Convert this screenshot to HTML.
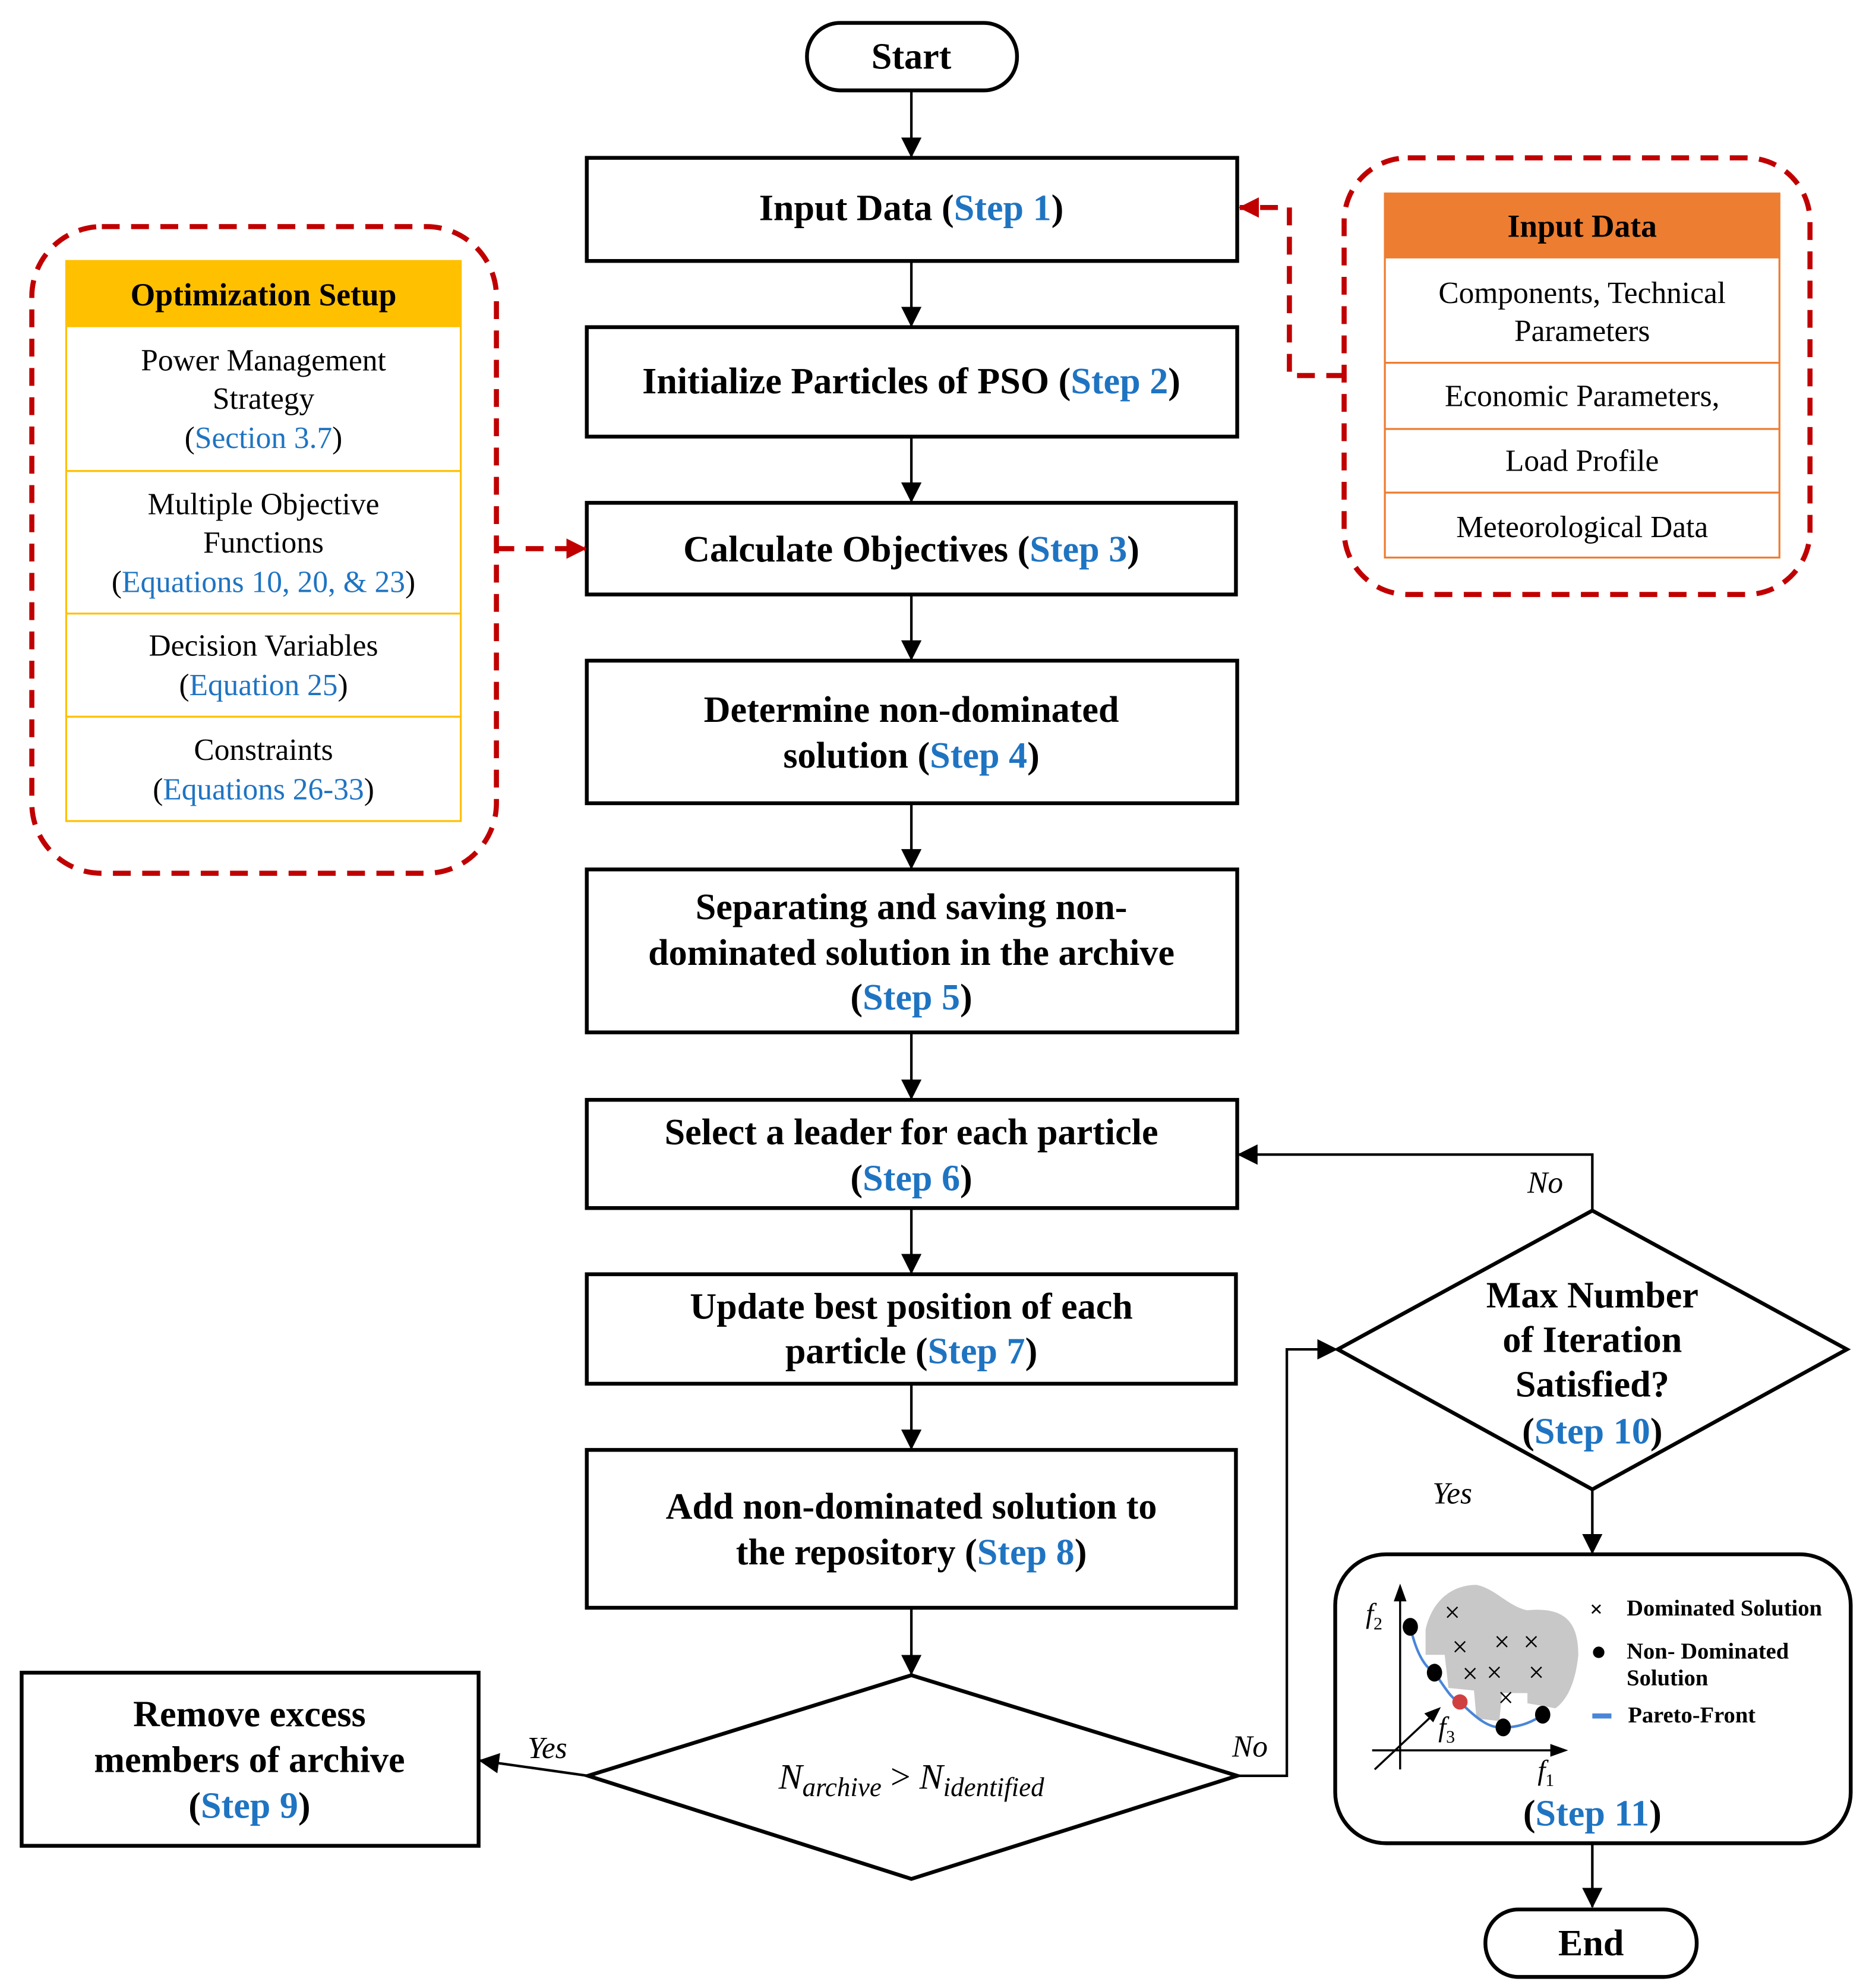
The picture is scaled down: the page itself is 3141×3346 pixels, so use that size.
<!DOCTYPE html>
<html><head><meta charset="utf-8"><style>
html,body{margin:0;padding:0;background:#fff}
svg{display:block}
text{font-family:"Liberation Serif",serif}
.b{font-weight:bold;font-size:29px}
.t{font-size:24px}
.bl{fill:#1f74c2}
.bx{fill:#fff;stroke:#000;stroke-width:3}
.ln{stroke:#000;stroke-width:2;fill:none}
.dsh{stroke:#c00000;stroke-width:4;fill:none;stroke-dasharray:14 9}
</style></head><body>
<svg width="3141" height="3346" viewBox="0 0 1466 1561.7" xmlns="http://www.w3.org/2000/svg">
<defs>
<marker id="ab" markerWidth="16" markerHeight="16" refX="15" refY="8" orient="auto" markerUnits="userSpaceOnUse" viewBox="0 0 16 16"><path d="M0,0 L16,8 L0,16z" fill="#000"/></marker>
<marker id="ar" markerWidth="16" markerHeight="16" refX="15" refY="8" orient="auto" markerUnits="userSpaceOnUse" viewBox="0 0 16 16"><path d="M0,0 L16,8 L0,16z" fill="#c00000"/></marker>
</defs>

<rect x="634" y="18" width="165" height="53" rx="26" class="bx"/>
<text x="716" y="54" text-anchor="middle" class="b">Start</text>

<g class="ln" stroke-width="2.5">
<line x1="716" y1="71" x2="716" y2="123" marker-end="url(#ab)"/>
<line x1="716" y1="205" x2="716" y2="256" marker-end="url(#ab)"/>
<line x1="716" y1="343" x2="716" y2="394" marker-end="url(#ab)"/>
<line x1="716" y1="467" x2="716" y2="518" marker-end="url(#ab)"/>
<line x1="716" y1="631" x2="716" y2="682" marker-end="url(#ab)"/>
<line x1="716" y1="811" x2="716" y2="863" marker-end="url(#ab)"/>
<line x1="716" y1="949" x2="716" y2="1000" marker-end="url(#ab)"/>
<line x1="716" y1="1087" x2="716" y2="1138" marker-end="url(#ab)"/>
<line x1="716" y1="1263" x2="716" y2="1315" marker-end="url(#ab)"/>
<line x1="1251" y1="1170" x2="1251" y2="1220" marker-end="url(#ab)"/>
<line x1="1251" y1="1448" x2="1251" y2="1498" marker-end="url(#ab)"/>
</g>

<rect x="461" y="124" width="511" height="81" class="bx"/>
<text x="716" y="173" text-anchor="middle" class="b">Input Data (<tspan class="bl">Step 1</tspan>)</text>
<rect x="461" y="257" width="511" height="86" class="bx"/>
<text x="716" y="309" text-anchor="middle" class="b">Initialize Particles of PSO (<tspan class="bl">Step 2</tspan>)</text>
<rect x="461" y="395" width="510" height="72" class="bx"/>
<text x="716" y="441" text-anchor="middle" class="b">Calculate Objectives (<tspan class="bl">Step 3</tspan>)</text>
<rect x="461" y="519" width="511" height="112" class="bx"/>
<text x="716" y="567" text-anchor="middle" class="b">Determine non-dominated</text>
<text x="716" y="603" text-anchor="middle" class="b">solution (<tspan class="bl">Step 4</tspan>)</text>
<rect x="461" y="683" width="511" height="128" class="bx"/>
<text x="716" y="722" text-anchor="middle" class="b">Separating and saving non-</text>
<text x="716" y="758" text-anchor="middle" class="b">dominated solution in the archive</text>
<text x="716" y="793" text-anchor="middle" class="b">(<tspan class="bl">Step 5</tspan>)</text>
<rect x="461" y="864" width="511" height="85" class="bx"/>
<text x="716" y="899" text-anchor="middle" class="b">Select a leader for each particle</text>
<text x="716" y="935" text-anchor="middle" class="b">(<tspan class="bl">Step 6</tspan>)</text>
<rect x="461" y="1001" width="510" height="86" class="bx"/>
<text x="716" y="1036" text-anchor="middle" class="b">Update best position of each</text>
<text x="716" y="1071" text-anchor="middle" class="b">particle (<tspan class="bl">Step 7</tspan>)</text>
<rect x="461" y="1139" width="510" height="124" class="bx"/>
<text x="716" y="1193" text-anchor="middle" class="b">Add non-dominated solution to</text>
<text x="716" y="1229" text-anchor="middle" class="b">the repository (<tspan class="bl">Step 8</tspan>)</text>

<polygon points="716,1316 972,1395 716,1476 462,1395" class="bx"/>
<text x="716" y="1405" text-anchor="middle" font-style="italic" font-size="28">N<tspan font-size="21" dy="6">archive</tspan><tspan dy="-6" font-style="normal"> &gt; </tspan>N<tspan font-size="21" dy="6">identified</tspan></text>

<rect x="17" y="1314" width="359" height="136" class="bx"/>
<text x="196" y="1356" text-anchor="middle" class="b">Remove excess</text>
<text x="196" y="1392" text-anchor="middle" class="b">members of archive</text>
<text x="196" y="1428" text-anchor="middle" class="b">(<tspan class="bl">Step 9</tspan>)</text>
<line x1="462" y1="1395" x2="377" y2="1383" class="ln" stroke-width="3" marker-end="url(#ab)"/>
<text x="430" y="1381" text-anchor="middle" font-style="italic" font-size="24">Yes</text>

<polyline points="972,1395 1011,1395 1011,1060 1050,1060" class="ln" stroke-width="1.5" marker-end="url(#ab)"/>
<text x="982" y="1380" text-anchor="middle" font-style="italic" font-size="24">No</text>

<polygon points="1251,951 1451,1060 1251,1170 1051,1060" class="bx"/>
<text x="1251" y="1027" text-anchor="middle" class="b">Max Number</text>
<text x="1251" y="1062" text-anchor="middle" class="b">of  Iteration</text>
<text x="1251" y="1097" text-anchor="middle" class="b">Satisfied?</text>
<text x="1251" y="1134" text-anchor="middle" class="b">(<tspan class="bl">Step 10</tspan>)</text>
<polyline points="1251,951 1251,907 973,907" class="ln" stroke-width="1.5" marker-end="url(#ab)"/>
<text x="1214" y="937" text-anchor="middle" font-style="italic" font-size="24">No</text>
<text x="1141" y="1181" text-anchor="middle" font-style="italic" font-size="24">Yes</text>

<rect x="1049" y="1221" width="405" height="227" rx="40" class="bx"/>
<path d="M1120,1280 C1125,1258 1140,1245 1160,1245 C1175,1248 1185,1262 1200,1265 C1230,1262 1240,1275 1240,1300 C1238,1320 1232,1335 1222,1342 L1200,1338 L1200,1330 L1180,1330 L1178,1352 L1160,1350 L1158,1328 L1138,1326 L1135,1300 L1120,1300 Z" fill="#c8c8c8"/>
<g stroke="#000" stroke-width="1.6">
<line x1="1100" y1="1390" x2="1100" y2="1250"/>
<line x1="1078" y1="1375" x2="1225" y2="1375"/>
<line x1="1080" y1="1390" x2="1127" y2="1346"/>
</g>
<path d="M1100,1244 L1095,1258 L1105,1258z M1232,1375 L1218,1370 L1218,1380z M1132,1341 L1119,1346 L1126,1353z" fill="#000"/>
<path d="M1108,1278 C1113,1300 1120,1310 1127,1314 C1135,1325 1140,1335 1147,1337 C1160,1350 1170,1358 1181,1357 C1195,1357 1205,1352 1212,1347" stroke="#4a86d8" stroke-width="2" fill="none"/>
<g fill="#000"><ellipse cx="1108" cy="1278" rx="6" ry="7"/><ellipse cx="1127" cy="1314" rx="6" ry="7"/><ellipse cx="1181" cy="1357" rx="6" ry="7"/><ellipse cx="1212" cy="1347" rx="6" ry="7"/></g>
<circle cx="1147" cy="1337" r="6" fill="#d04040"/>
<g font-size="22" text-anchor="middle"><text x="1141" y="1274">×</text><text x="1147" y="1301">×</text><text x="1180" y="1297">×</text><text x="1203" y="1297">×</text><text x="1155" y="1322">×</text><text x="1174" y="1321">×</text><text x="1207" y="1321">×</text><text x="1183" y="1341">×</text></g>
<text x="1073" y="1275" font-style="italic" font-size="22">f<tspan font-size="14" dy="5" font-style="normal">2</tspan></text>
<text x="1130" y="1364" font-style="italic" font-size="22">f<tspan font-size="14" dy="5" font-style="normal">3</tspan></text>
<text x="1208" y="1398" font-style="italic" font-size="22">f<tspan font-size="14" dy="5" font-style="normal">1</tspan></text>
<g font-size="18" font-weight="bold">
<text x="1249" y="1270">×</text><text x="1278" y="1269">Dominated Solution</text>
<circle cx="1256" cy="1298" r="4.5" fill="#000"/><text x="1278" y="1303">Non- Dominated</text><text x="1278" y="1324">Solution</text>
<rect x="1251" y="1346" width="15" height="4" fill="#4a86d8"/><text x="1279" y="1353">Pareto-Front</text>
</g>
<text x="1251" y="1434" text-anchor="middle" class="b">(<tspan class="bl">Step 11</tspan>)</text>

<rect x="1167" y="1500" width="166" height="53" rx="26" class="bx"/>
<text x="1250" y="1536" text-anchor="middle" class="b">End</text>

<rect x="25" y="178" width="365" height="508" rx="55" class="dsh"/>
<rect x="52" y="205" width="310" height="52" fill="#ffc000"/>
<rect x="52" y="205" width="310" height="440" fill="none" stroke="#ffc000" stroke-width="1.5"/>
<g stroke="#ffc000" stroke-width="1.5"><line x1="52" y1="370" x2="362" y2="370"/><line x1="52" y1="482" x2="362" y2="482"/><line x1="52" y1="563" x2="362" y2="563"/></g>
<text x="207" y="240" text-anchor="middle" font-weight="bold" font-size="25">Optimization Setup</text>
<g class="t" text-anchor="middle">
<text x="207" y="291">Power Management</text><text x="207" y="321">Strategy</text><text x="207" y="352">(<tspan class="bl">Section 3.7</tspan>)</text>
<text x="207" y="404">Multiple Objective</text><text x="207" y="434">Functions</text><text x="207" y="465">(<tspan class="bl">Equations 10, 20, &amp; 23</tspan>)</text>
<text x="207" y="515">Decision Variables</text><text x="207" y="546">(<tspan class="bl">Equation 25</tspan>)</text>
<text x="207" y="597">Constraints</text><text x="207" y="628">(<tspan class="bl">Equations 26-33</tspan>)</text>
</g>
<polyline points="390,431 460,431" class="dsh" marker-end="url(#ar)"/>

<rect x="1056" y="124" width="366" height="343" rx="50" class="dsh"/>
<rect x="1088" y="152" width="310" height="51" fill="#ed7d31"/>
<rect x="1088" y="152" width="310" height="286" fill="none" stroke="#ed7d31" stroke-width="1.5"/>
<g stroke="#ed7d31" stroke-width="1.5"><line x1="1088" y1="285" x2="1398" y2="285"/><line x1="1088" y1="337" x2="1398" y2="337"/><line x1="1088" y1="387" x2="1398" y2="387"/></g>
<text x="1243" y="186" text-anchor="middle" font-weight="bold" font-size="25">Input Data</text>
<g class="t" text-anchor="middle">
<text x="1243" y="238">Components, Technical</text><text x="1243" y="268">Parameters</text>
<text x="1243" y="319">Economic Parameters,</text>
<text x="1243" y="370">Load Profile</text>
<text x="1243" y="422">Meteorological Data</text>
</g>
<polyline points="1056,295 1013,295 1013,163 974,163" class="dsh" marker-end="url(#ar)"/>
</svg>
</body></html>
